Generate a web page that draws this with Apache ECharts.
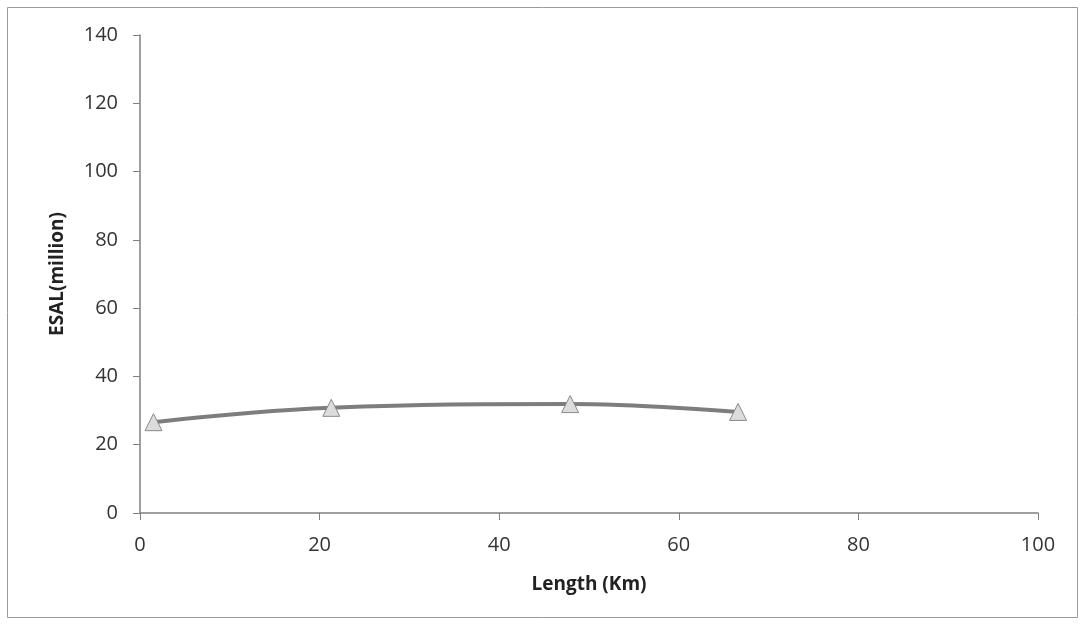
<!DOCTYPE html>
<html><head><meta charset="utf-8">
<script src="https://cdn.jsdelivr.net/npm/echarts@6/dist/echarts.min.js"></script>
<style>html,body{margin:0;padding:0;background:#fff}#c{width:1083px;height:625px}</style>
</head><body><div id="c"></div>
<script>
const lengthKm = [1.5, 21.3, 47.9, 66.6];
const esalMillion = [26.6, 30.8, 31.9, 29.6];
const xTicks = [0, 20, 40, 60, 80, 100];
const yTicks = [0, 20, 40, 60, 80, 100, 120, 140];
const xTitle = 'Length (Km)';
const yTitle = 'ESAL(million)';

const chart = echarts.init(document.getElementById('c'));
const font = 'Open Sans';
chart.setOption({
  backgroundColor: '#fff',
  animation: false,
  graphic: [{type:'rect', shape:{x:7.5,y:7.5,width:1070,height:610}, style:{fill:'none', stroke:'#9a9a9a', lineWidth:1}}],
  grid: {left:140, right:45, top:35, bottom:112},
  xAxis: {
    type:'value', min:xTicks[0], max:xTicks[xTicks.length-1], interval:20,
    name:xTitle, nameLocation:'middle', nameGap:62,
    nameTextStyle:{fontFamily:font, fontWeight:'bold', fontSize:19, color:'#222'},
    axisLine:{lineStyle:{color:'#7f7f7f', width:1.5}},
    axisTick:{show:true, length:7, lineStyle:{color:'#7f7f7f'}},
    axisLabel:{fontFamily:font, fontSize:20, color:'#333', margin:22},
    splitLine:{show:false}
  },
  yAxis: {
    type:'value', min:yTicks[0], max:yTicks[yTicks.length-1], interval:20,
    name:yTitle, nameLocation:'middle', nameGap:73, nameRotate:90,
    nameTextStyle:{fontFamily:font, fontWeight:'bold', fontSize:19, color:'#222'},
    axisLine:{show:true, lineStyle:{color:'#7f7f7f', width:1.5}},
    axisTick:{show:true, length:7, lineStyle:{color:'#7f7f7f'}},
    axisLabel:{fontFamily:font, fontSize:20, color:'#333', margin:22},
    splitLine:{show:false}
  },
  series: [{
    type:'line', smooth:0.4,
    data: lengthKm.map((x,i)=>[x, esalMillion[i]]),
    lineStyle:{color:'#7d7d7d', width:4},
    symbol:'triangle', symbolSize:17,
    itemStyle:{color:'#dcdcdc', borderColor:'#8a8a8a', borderWidth:1}
  }]
});
</script></body></html>
